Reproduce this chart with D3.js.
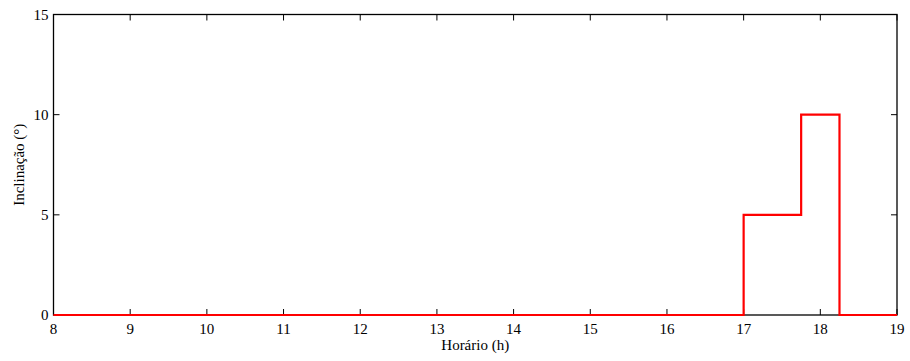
<!DOCTYPE html>
<html><head><meta charset="utf-8">
<script src="https://cdn.jsdelivr.net/npm/d3@7"></script>
</head><body style="margin:0;background:#fff"><svg id="c" width="910" height="361" style="display:block"></svg>
<script>
const hours = [8, 17, 17.75, 18.25, 19];
const inclination = [0, 5, 10, 0, 0];
const xTicks = [8,9,10,11,12,13,14,15,16,17,18,19];
const yTicks = [0,5,10,15];

const svg = d3.select("#c");
const FF = '"Liberation Serif", "Times New Roman", serif';
const m = {l:53.5, r:897, t:14.5, b:315};
const x = d3.scaleLinear().domain([8,19]).range([m.l, m.r]);
const y = d3.scaleLinear().domain([0,15]).range([m.b, m.t]);

function txt(sel){ return sel.style("font-family",FF).style("font-size","15px").style("fill","#000"); }

const g = svg.append("g");
xTicks.forEach(v => {
  g.append("line").attr("x1",x(v)).attr("x2",x(v)).attr("y1",m.b).attr("y2",m.b-6).attr("stroke","#000").attr("stroke-width",1);
  g.append("line").attr("x1",x(v)).attr("x2",x(v)).attr("y1",m.t).attr("y2",m.t+6).attr("stroke","#000").attr("stroke-width",1);
  txt(g.append("text").attr("x",x(v)).attr("y",334).attr("text-anchor","middle")).text(v);
});
yTicks.forEach(v => {
  g.append("line").attr("x1",m.l).attr("x2",m.l+6).attr("y1",y(v)).attr("y2",y(v)).attr("stroke","#000").attr("stroke-width",1);
  g.append("line").attr("x1",m.r).attr("x2",m.r-6).attr("y1",y(v)).attr("y2",y(v)).attr("stroke","#000").attr("stroke-width",1);
  txt(g.append("text").attr("x",m.l-5).attr("y",y(v)+5).attr("text-anchor","end")).text(v);
});
g.append("rect").attr("x",m.l).attr("y",m.t).attr("width",m.r-m.l).attr("height",m.b-m.t)
  .attr("fill","none").attr("stroke","#000").attr("stroke-width",1.3);

const line = d3.line().x((d,i)=>x(hours[i])).y(d=>y(d)).curve(d3.curveStepAfter);
svg.append("path").datum(inclination).attr("d",line).attr("fill","none").attr("stroke","#ff0000").attr("stroke-width",2.2);

txt(svg.append("text").attr("x",(m.l+m.r)/2).attr("y",350).attr("text-anchor","middle")).text("Horário (h)");
txt(svg.append("text").attr("transform",`translate(24,${(m.t+m.b)/2}) rotate(-90)`).attr("text-anchor","middle")).text("Inclinação (°)");
</script></body></html>
